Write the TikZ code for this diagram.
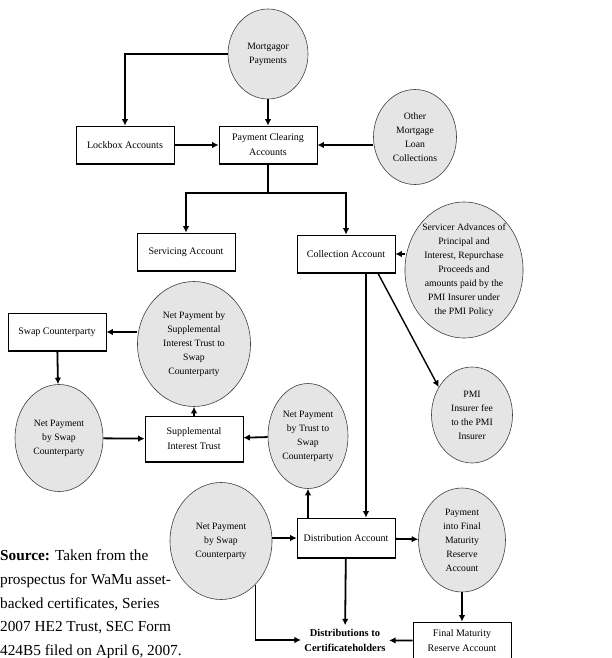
\documentclass[tikz,border=0pt]{standalone}
\usepackage{fontspec}
\setmainfont{Liberation Serif}
\usetikzlibrary{shapes.geometric,arrows.meta}
\tikzset{
	account/.style={draw,line width=0.7pt,minimum height=38pt,minimum width=98pt,anchor=center,rectangle,fill=white,align=center,font=\fontsize{10}{15}\selectfont,
		append after command={(\tikzlastnode.south west) edge[line width=1.8pt] (\tikzlastnode.south east)}},
	flow/.style={draw=black!75,line width=0.6pt,ellipse,fill=black!10,inner sep=0pt,align=center,font=\fontsize{9.7}{14}\selectfont},
	line/.style={draw,line width=1.8pt,-{Latex[length=6.5pt,width=6.5pt]}},
	thinline/.style={draw,line width=1.1pt,-{Latex[length=6.5pt,width=6.5pt]}},
}

\begin{document}
\begin{tikzpicture}[x=1pt,y=-1pt]
	\useasboundingbox (0,0) rectangle (611,658);

	% Incoming payments
	\node[flow,minimum width=80pt,minimum height=90pt] (mortgagor) at (268,54) {Mortgagor\\Payments};
	\node[flow,minimum width=83pt,minimum height=95pt] (other) at (415,137) {Other\\Mortgage\\Loan\\Collections};
	\node[account] (lockbox) at (125,145) {Lockbox Accounts};
	\node[account] (clearing) at (268,145) {Payment Clearing\\Accounts};

	% Servicer accounts
	\node[account] (servicing) at (186,252) {Servicing Account};
	\node[account] (collection) at (346,254) {Collection Account};
	\node[flow,minimum width=115pt,minimum height=136pt] (advances) at (464,270) {Servicer Advances of\\Principal and\\Interest, Repurchase\\Proceeds and\\amounts paid by the\\PMI Insurer under\\the PMI Policy};
	\node[flow,minimum width=81pt,minimum height=96pt] (pmifee) at (472,415) {PMI\\Insurer fee\\to the PMI\\Insurer};

	% Swap side
	\node[account] (swap) at (57,332) {Swap Counterparty};
	\node[flow,minimum width=113pt,minimum height=125pt] (netsupp) at (194,344) {Net Payment by\\Supplemental\\Interest Trust to\\Swap\\Counterparty};
	\node[flow,minimum width=88pt,minimum height=107pt] (netswapleft) at (59,438) {Net Payment\\by Swap\\Counterparty};
	\node[account,minimum height=46pt] (supptrust) at (194,439) {Supplemental\\Interest Trust};
	\node[flow,minimum width=80pt,minimum height=105pt] (nettrust) at (308,436) {Net Payment\\by Trust to\\Swap\\Counterparty};

	% Distribution
	\node[flow,minimum width=102pt,minimum height=117pt] (netswapmid) at (221,541) {Net Payment\\by Swap\\Counterparty};
	\node[account,minimum height=40pt] (distribution) at (346,538) {Distribution Account};
	\node[flow,minimum width=87pt,minimum height=104pt] (reservepay) at (462,540) {Payment\\into Final\\Maturity\\Reserve\\Account};
	\node[align=center,font=\fontsize{10.5}{15}\selectfont\bfseries] (holders) at (345,640) {Distributions to\\Certificateholders};
	\node[account,minimum height=38pt] (reserve) at (462,641) {Final Maturity\\Reserve Account};

	% Source
	\node[anchor=north west,align=left,inner sep=0pt,font=\fontsize{15.3}{23.6}\selectfont] (source) at (0,550) {\textbf{Source:} Taken from the\\prospectus for WaMu asset-\\backed certificates, Series\\2007 HE2 Trust, SEC Form\\424B5 filed on April 6, 2007.};

	\coordinate (fork) at (268,193);

	% Draw connections
	\draw[line] (mortgagor.west) -| (lockbox.north);
	\draw[line] (mortgagor) -- (clearing);
	\draw[line] (lockbox) -- (clearing);
	\draw[line] (other.west |- clearing.east) -- (clearing.east);
	\draw[line] (clearing.south) -- (fork) -| (servicing.north);
	\draw[line] (fork) -| (collection.north);
	\draw[line] (advances.west |- collection.east) -- (collection.east);
	\draw[line] ([xshift=20pt]collection.south) -- ([xshift=20pt]distribution.north);
	\draw[line,line width=1.4pt] ([xshift=32pt]collection.south) -- (pmifee.140);
	\draw[line] (netsupp.west |- swap.east) -- (swap.east);
	\draw[line] (swap) -- (netswapleft);
	\draw[line] (netswapleft) -- (supptrust);
	\draw[line] (supptrust) -- (netsupp);
	\draw[line] (nettrust) -- (supptrust);
	\draw[line] (nettrust.south |- distribution.north) -- (nettrust.south);
	\draw[thinline] (netswapmid.east |- distribution.west) -- (distribution.west);
	\draw[line] (distribution) -- (reservepay);
	\draw[line] (distribution) -- (holders);
	\draw[line] (reservepay) -- (reserve);
	\draw[line] (reserve) -- (holders);
	\draw[thinline] (netswapmid.-52) |- (holders.west);

\end{tikzpicture}
\end{document}
